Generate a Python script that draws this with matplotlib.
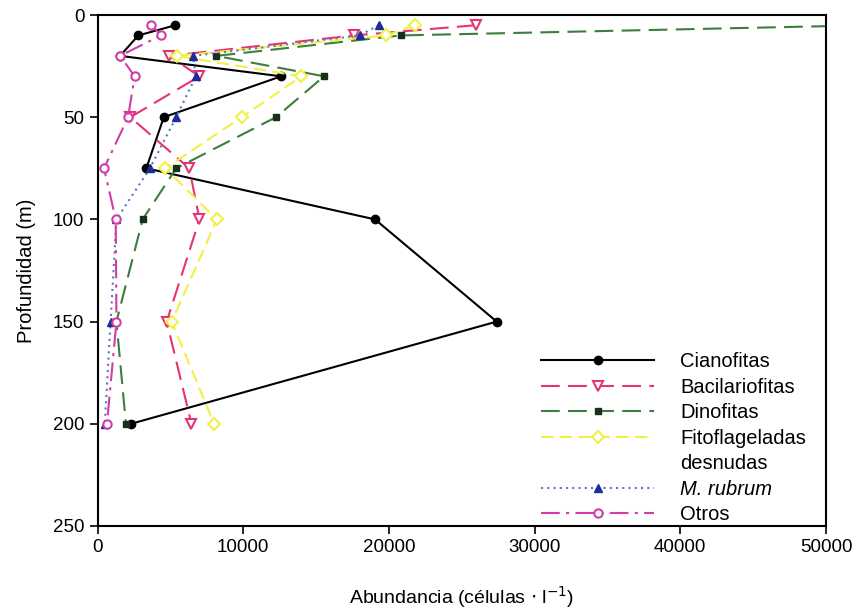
import matplotlib
matplotlib.use("Agg")
import matplotlib.pyplot as plt
from matplotlib.lines import Line2D

plt.rcParams["font.family"] = ["Liberation Sans", "DejaVu Sans"]

# profundidad de muestreo (m)
depth = [5, 10, 20, 30, 50, 75, 100, 150, 200]

# abundancia (células/l) por grupo
cianofitas = [5350, 2800, 1550, 12600, 4550, 3350, 19050, 27400, 2300]
bacilariofitas = [25950, 17600, 4900, 7000, 2250, 6300, 7000, 4750, 6450]
dinofitas = [53000, 20800, 8150, 15550, 12250, 5400, 3100, 1300, 1950]
fitoflageladas = [21800, 19800, 5450, 14000, 9900, 4650, 8200, 5100, 8000]
m_rubrum = [19300, 18000, 6550, 6750, 5400, 3600, 1300, 900, 500]
otros = [3700, 4350, 1550, 2550, 2100, 450, 1250, 1300, 650]

series = [
    ("Cianofitas", cianofitas, dict(color="black", ls="-", marker="o", mfc="black", mec="black", ms=6)),
    ("Bacilariofitas", bacilariofitas, dict(color="#e63372", ls=(0, (9, 4)), marker="v", mfc="white", mec="#e63372", ms=6.5, mew=1.5)),
    ("Dinofitas", dinofitas, dict(color="#3d7d3d", ls=(0, (9, 4)), marker="s", mfc="#17301a", mec="#17301a", ms=5)),
    ("Fitoflageladas", fitoflageladas, dict(color="#f0f045", ls=(0, (6, 3)), marker="D", mfc="white", mec="#f0f045", ms=6, mew=1.5)),
    ("M. rubrum", m_rubrum, dict(color="#5f77b5", ls=(0, (1, 2)), marker="^", mfc="#1c2c9c", mec="#1c2c9c", ms=6)),
    ("Otros", otros, dict(color="#d23ca8", ls=(0, (9, 3, 1.5, 3)), marker="o", mfc="white", mec="#d23ca8", ms=6, mew=1.5)),
]

fig = plt.figure(figsize=(8.56, 6.14), dpi=100)
ax = fig.add_axes([97.5 / 856, 1 - 526 / 614, (826 - 97.5) / 856, (526 - 15) / 614])

handles, labels = [], []
for name, vals, style in series:
    ln, = ax.plot(vals, depth, lw=1.5, label=name, **style)
    handles.append(ln)
    labels.append(name)
    if name == "Fitoflageladas":
        # segunda línea de la etiqueta, sin símbolo
        handles.append(Line2D([], [], ls="none"))
        labels.append("desnudas")

ax.set_xlim(0, 50000)
ax.set_ylim(250, 0)
ax.set_xticks(range(0, 50001, 10000))
ax.set_yticks(range(0, 251, 50))
ax.tick_params(direction="out", length=6, width=1.2, labelsize=13.5, top=False, right=False)
for sp in ax.spines.values():
    sp.set_linewidth(1.5)

ax.set_xlabel("Abundancia (células $\\cdot$ l$^{-1}$)", fontsize=14, labelpad=20)
ax.set_ylabel("Profundidad (m)", fontsize=14.5, labelpad=12)

leg = ax.legend(handles, labels, loc="lower right", bbox_to_anchor=(0.984, -0.012), frameon=False,
                fontsize=14.5, handlelength=5.6, handletextpad=1.3, labelspacing=0.32, borderaxespad=0.0)
leg.get_texts()[5].set_fontstyle("italic")

fig.savefig("out.png", dpi=100)
